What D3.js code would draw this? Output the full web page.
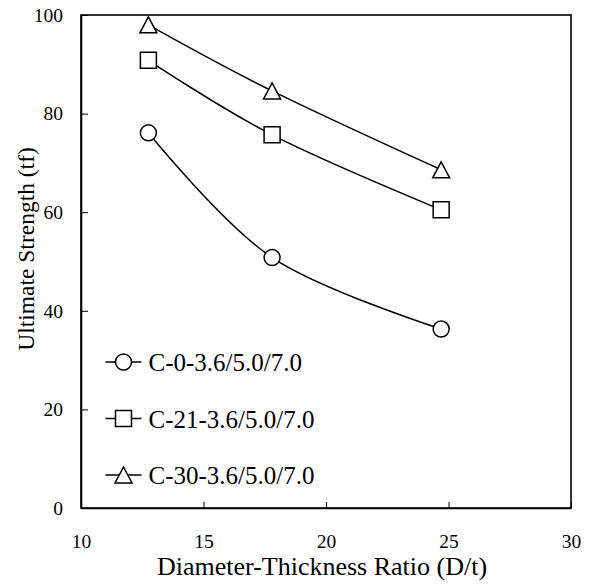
<!DOCTYPE html>
<html>
<head>
<meta charset="utf-8">
<script src="https://cdn.jsdelivr.net/npm/d3@7"></script>
<style>
  body { margin: 0; background: #fff; }
  text { font-family: "Liberation Serif", "Times New Roman", serif; fill: #000; }
</style>
</head>
<body>
<div id="chart"></div>
<script>
// data
const ratios = [12.75, 17.8, 24.7];
const seriesNames = ['C-0-3.6/5.0/7.0', 'C-21-3.6/5.0/7.0', 'C-30-3.6/5.0/7.0'];
const c0Values = [76.1, 50.8, 36.3];
const c21Values = [90.8, 75.7, 60.5];
const c30Values = [98.0, 84.6, 68.6];
const markerTypes = ['circle', 'square', 'triangle'];
const xTicks = [10, 15, 20, 25, 30];
const yTicks = [0, 20, 40, 60, 80, 100];

const width = 590, height = 585;
const margin = { top: 15, right: 19, bottom: 77, left: 81 };

const svg = d3.select('#chart').append('svg')
  .attr('width', width).attr('height', height);

const x = d3.scaleLinear().domain([10, 30]).range([margin.left, width - margin.right]);
const y = d3.scaleLinear().domain([0, 100]).range([height - margin.bottom, margin.top]);

// frame
svg.append('rect')
  .attr('x', x(10)).attr('y', y(100))
  .attr('width', x(30) - x(10)).attr('height', y(0) - y(100))
  .attr('fill', 'none').attr('stroke', '#000').attr('stroke-width', 1.6);

// axes, ticks pointing inward
const xAxis = svg.append('g')
  .attr('transform', `translate(0,${y(0)})`)
  .call(d3.axisBottom(x).tickValues(xTicks).tickSizeInner(-6).tickSizeOuter(0).tickPadding(26));
const yAxis = svg.append('g')
  .attr('transform', `translate(${x(10)},0)`)
  .call(d3.axisLeft(y).tickValues(yTicks).tickSizeInner(-7).tickSizeOuter(0).tickPadding(18));

[xAxis, yAxis].forEach(a => {
  a.attr('font-size', 19).attr('font-family', '"Liberation Serif", serif');
  a.select('.domain').attr('stroke', '#000').attr('stroke-width', 1.6);
  a.selectAll('.tick line').attr('stroke', '#000').attr('stroke-width', 1);
  a.selectAll('.tick text')
    .style('font-family', '"Liberation Serif", serif')
    .style('font-size', '19.5px').attr('fill', '#000');
});

// axis titles
svg.append('text')
  .attr('x', (x(10) + x(30)) / 2 - 4).attr('y', 575)
  .attr('text-anchor', 'middle')
  .style('font-size', '26px')
  .text('Diameter-Thickness Ratio (D/t)');

svg.append('text')
  .attr('transform', `translate(34,${249}) rotate(-90)`)
  .attr('text-anchor', 'middle')
  .style('font-size', '23.5px')
  .text('Ultimate Strength (tf)');

// marker shapes
function markerPath(type) {
  if (type === 'circle') return d3.symbol(d3.symbolCircle, Math.PI * 64)();
  if (type === 'square') return 'M-8,-8H8V8H-8Z';
  return 'M0,-8L8.5,8H-8.5Z';
}

const allSeries = [c0Values, c21Values, c30Values].map((vals, i) => ({
  name: seriesNames[i],
  type: markerTypes[i],
  points: ratios.map((r, j) => ({ x: r, y: vals[j] }))
}));

const line = d3.line()
  .x(d => x(d.x)).y(d => y(d.y))
  .curve(d3.curveCatmullRom.alpha(0));

allSeries.forEach(s => {
  svg.append('path')
    .attr('d', line(s.points))
    .attr('fill', 'none').attr('stroke', '#000').attr('stroke-width', 1.5);

  svg.selectAll(null)
    .data(s.points)
    .enter()
    .append('path')
    .attr('transform', d => `translate(${x(d.x)},${y(d.y)})`)
    .attr('d', markerPath(s.type))
    .attr('fill', '#fff').attr('stroke', '#000').attr('stroke-width', 1.5);
});

// legend
const legendY = [362, 418.5, 475];
allSeries.forEach((s, i) => {
  const g = svg.append('g').attr('transform', `translate(123.5,${legendY[i]})`);
  g.append('line').attr('x1', -18).attr('x2', 18)
    .attr('stroke', '#000').attr('stroke-width', 1.5);
  g.append('path').attr('d', markerPath(s.type))
    .attr('fill', '#fff').attr('stroke', '#000').attr('stroke-width', 1.5);
  g.append('text')
    .attr('x', 25).attr('y', 9)
    .style('font-size', '25px')
    .text(s.name);
});
</script>
</body>
</html>
